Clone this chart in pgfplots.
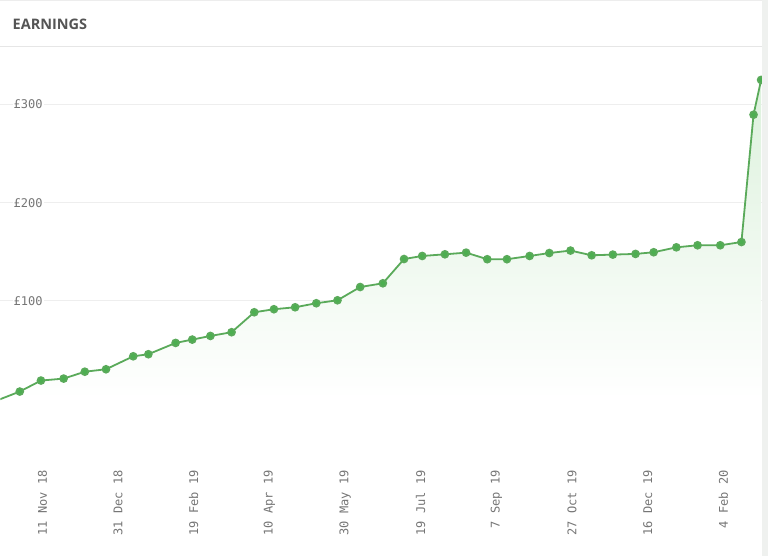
\documentclass[border=0pt]{standalone}
\usepackage{pgfplots}
\usepackage{pgfplotstable}
\pgfplotsset{compat=1.18}
\usepackage{fontspec}
\setmainfont{Open Sans}
\setmonofont{DejaVu Sans Mono}
\definecolor{lineg}{HTML}{5AAA5A}
\definecolor{markg}{HTML}{4CAF50}
\definecolor{fillg}{HTML}{DCF1DC}
\definecolor{tickc}{HTML}{767676}
\definecolor{titlec}{HTML}{555555}
\definecolor{sepc}{HTML}{E6E6E6}
\definecolor{gridc}{HTML}{EEEEEE}
\definecolor{stripc}{HTML}{EFF1EF}
\pgfplotstableread{
day value
-28 0
-15 7.8
-1 19
14 21
28 28
42 30.5
60 43.7
70 45.8
88 57.3
99 60.7
111 64.4
125 68.2
140 88.5
153 91.6
167 93.6
181 97.7
195 100.7
210 114.2
225 118
239 142.7
251 145.8
266 147.5
280 149.2
294 142.5
307 142.5
322 145.8
335 148.8
349 151.3
363 146.5
377 147.2
392 147.9
404 149.6
419 154.6
433 156.7
448 156.7
462 160
470 289.6
475 325
}\earnings
\begin{document}
\begin{tikzpicture}[x=1pt,y=1pt]
\fill[white] (0,0) rectangle (768,556);
\draw[sepc, line width=1pt] (0,509) -- (762,509);
\draw[sepc!70, line width=0.8pt] (0,555.6) -- (762,555.6);
\node[anchor=west, inner sep=0, font=\bfseries\fontsize{14.5}{16}\selectfont, text=titlec] at (12,531.5) {EARNINGS};
\begin{axis}[
  at={(0,87)}, anchor=south west,
  scale only axis, width=762pt, height=419pt,
  xmin=-27.74, xmax=475.6, ymin=-72.2, ymax=354,
  axis line style={draw=none},
  major tick length=0, tick style={draw=none},
  xtick={0,50,...,450},
  xticklabels={11 Nov 18,31 Dec 18,19 Feb 19,10 Apr 19,30 May 19,19 Jul 19,7 Sep 19,27 Oct 19,16 Dec 19,4 Feb 20},
  ytick={100,200,300},
  yticklabels={£100,£200,£300},
  ymajorgrids,
  grid style={gridc, line width=1pt},
  ticklabel style={font=\ttfamily\fontsize{12}{14}\selectfont, text=tickc},
  xticklabel style={rotate=90, anchor=east, inner sep=0pt},
  yticklabel style={anchor=west, xshift=12pt, fill=white, inner sep=1pt},
]
\addplot[draw=none, top color=fillg, bottom color=white, forget plot] table[x=day,y=value]{\earnings} \closedcycle;
\addplot[lineg, line width=1.8pt, mark=*, mark size=3.4pt, mark options={draw=none, fill=markg}] table[x=day,y=value]{\earnings};
\end{axis}
\fill[stripc] (762,0) rectangle (768,556);
\end{tikzpicture}
\end{document}
